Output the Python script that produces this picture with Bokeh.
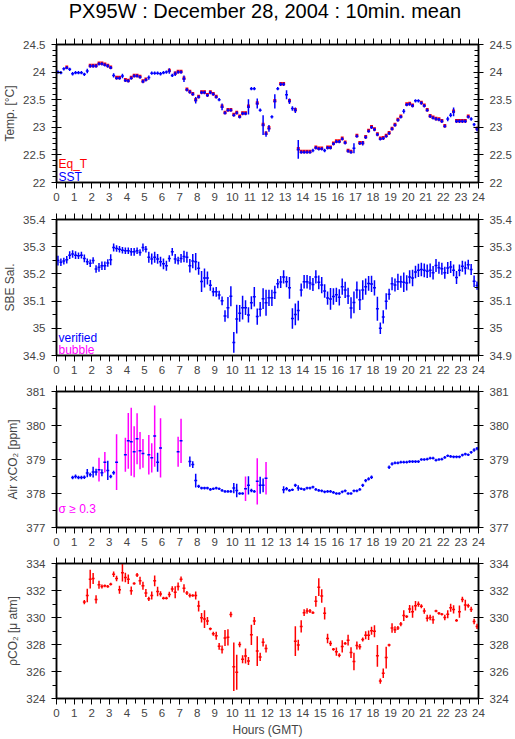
import numpy as np
from bokeh.plotting import figure
from bokeh.models import (LinearAxis, Range1d, Label, FixedTicker, Div,
                          CustomJSTickFormatter, CustomLabelingPolicy)
from bokeh.layouts import column
from bokeh.embed import file_html
from bokeh.resources import INLINE

# ---------------- data (10-minute means, 144 slots per day) ----------------
minutes = list(range(5, 1440, 10))          # slot centres, minutes after 00:00 GMT

sst = [24.00, 23.99, 24.06, 24.08, 24.05, 23.97,
       23.99, 23.99, 23.99, 23.96, 24.02, 24.11,
       24.11, 24.11, 24.15, 24.15, 24.13, 24.11,
       24.08, 23.94, 23.89, 23.89, 23.93, 23.85,
       23.84, 23.89, 23.93, 23.93, 23.91, 23.83,
       23.86, 23.90, 23.98, 23.98, 23.98, 23.97,
       23.99, 24.00, 24.02, 23.94, 23.97, 24.00,
       24.00, 23.88, 23.68, 23.64, 23.60, 23.49,
       23.55, 23.63, 23.63, 23.58, 23.63, 23.60,
       23.55, 23.50, 23.37, 23.26, 23.31, 23.31,
       23.22, 23.26, 23.19, 23.25, 23.25, 23.37,
       23.70, 23.70, 23.43, 23.31, 23.04, 22.88,
       22.98, 23.19, 23.47, 23.70, 23.78, 23.78,
       23.59, 23.47, 23.34, 23.31, 22.60, 22.55,
       22.55, 22.55, 22.55, 22.58, 22.63, 22.61,
       22.61, 22.58, 22.63, 22.63, 22.70, 22.74,
       22.74, 22.79, 22.72, 22.57, 22.55, 22.62,
       22.84, 22.71, 22.71, 22.82, 22.93, 23.00,
       22.96, 22.87, 22.79, 22.80, 22.84, 22.89,
       22.97, 23.04, 23.13, 23.19, 23.29, 23.41,
       23.42, 23.39, 23.48, 23.48, 23.44, 23.39,
       23.31, 23.20, 23.17, 23.15, 23.14, 23.11,
       23.02, 23.15, 23.22, 23.28, 23.11, 23.11,
       23.11, 23.11, 23.19, 23.15, 23.05, 22.97]

sst_sd = [0.03, 0.03, 0.03, 0.03, 0.03, 0.03,
          0.03, 0.03, 0.03, 0.03, 0.04, 0.03,
          0.03, 0.03, 0.03, 0.03, 0.03, 0.03,
          0.03, 0.04, 0.03, 0.03, 0.04, 0.03,
          0.03, 0.03, 0.03, 0.03, 0.03, 0.03,
          0.03, 0.04, 0.03, 0.03, 0.03, 0.03,
          0.03, 0.03, 0.05, 0.03, 0.04, 0.03,
          0.03, 0.06, 0.03, 0.03, 0.03, 0.06,
          0.03, 0.03, 0.03, 0.03, 0.03, 0.03,
          0.03, 0.03, 0.06, 0.03, 0.03, 0.03,
          0.03, 0.03, 0.03, 0.03, 0.03, 0.14,
          0.03, 0.03, 0.09, 0.03, 0.18, 0.05,
          0.06, 0.03, 0.13, 0.03, 0.03, 0.03,
          0.08, 0.05, 0.04, 0.05, 0.17, 0.03,
          0.03, 0.03, 0.03, 0.03, 0.03, 0.03,
          0.03, 0.03, 0.03, 0.03, 0.03, 0.03,
          0.03, 0.03, 0.03, 0.03, 0.03, 0.09,
          0.03, 0.03, 0.04, 0.03, 0.03, 0.03,
          0.03, 0.03, 0.03, 0.03, 0.03, 0.03,
          0.03, 0.03, 0.03, 0.03, 0.04, 0.03,
          0.03, 0.03, 0.03, 0.03, 0.03, 0.03,
          0.03, 0.03, 0.03, 0.03, 0.03, 0.03,
          0.03, 0.04, 0.04, 0.08, 0.03, 0.03,
          0.03, 0.03, 0.03, 0.03, 0.03, 0.04]

eq_t = [None, None, None, 24.09, None, None,
        None, None, None, None, None, 24.12,
        24.12, 24.12, 24.16, 24.16, 24.14, 24.12,
        24.09, None, 23.90, 23.90, None, 23.86,
        23.85, 23.90, 23.94, 23.94, 23.92, 23.84,
        23.87, None, None, None, None, None,
        None, None, 24.03, None, 23.98, 24.01,
        24.01, 23.89, 23.69, 23.65, 23.61, 23.50,
        23.56, 23.64, 23.64, 23.59, 23.64, 23.61,
        23.56, None, 23.38, 23.27, 23.32, 23.32,
        23.23, 23.27, 23.20, 23.26, 23.26, 23.38,
        None, None, 23.44, None, 23.05, 22.89,
        22.99, None, 23.48, None, 23.79, 23.79,
        None, 23.48, None, 23.32, 22.61, 22.56,
        22.56, 22.56, 22.56, None, 22.64, 22.62,
        22.62, None, 22.64, 22.64, 22.71, 22.75,
        22.75, 22.80, 22.73, 22.58, 22.56, None,
        22.85, 22.72, 22.72, 22.83, 22.94, 23.01,
        22.97, 22.88, 22.80, 22.81, 22.85, 22.90,
        22.98, 23.05, 23.14, 23.20, None, 23.42,
        23.43, 23.40, None, None, 23.45, 23.40,
        23.32, 23.21, 23.18, 23.16, 23.15, 23.12,
        23.03, None, None, 23.29, 23.12, 23.12,
        23.12, 23.12, 23.20, None, None, 22.98]

sal = [35.249, 35.243, 35.247, 35.252, 35.269, 35.273,
       35.269, 35.267, 35.269, 35.257, 35.245, 35.239,
       35.249, 35.218, 35.224, 35.230, 35.230, 35.240,
       35.252, 35.297, 35.293, 35.291, 35.287, 35.285,
       35.285, 35.281, 35.281, 35.285, 35.279, 35.297,
       35.291, 35.261, 35.255, 35.261, 35.255, 35.245,
       35.237, 35.230, 35.257, 35.281, 35.255, 35.249,
       35.257, 35.264, 35.261, 35.230, 35.247, 35.245,
       35.221, 35.172, 35.185, 35.185, 35.158, 35.134,
       35.134, 35.122, 35.101, 35.045, 35.076, 35.118,
       34.948, 35.034, 35.055, 35.076, 35.076, 35.049,
       35.094, 35.116, 35.043, 35.070, 35.109, 35.094,
       35.112, 35.112, 35.132, 35.164, 35.170, 35.189,
       35.171, 35.149, 35.036, 35.051, 35.065, 35.141,
       35.171, 35.171, 35.167, 35.161, 35.189, 35.169,
       35.159, 35.137, 35.111, 35.108, 35.117, 35.123,
       35.114, 35.153, 35.141, 35.119, 35.075, 35.095,
       35.141, 35.105, 35.141, 35.153, 35.165, 35.163,
       35.149, 35.072, 35.000, 35.042, 35.099, 35.125,
       35.164, 35.159, 35.171, 35.171, 35.169, 35.167,
       35.189, 35.185, 35.207, 35.213, 35.216, 35.213,
       35.210, 35.213, 35.204, 35.231, 35.223, 35.219,
       35.204, 35.222, 35.225, 35.213, 35.187, 35.213,
       35.228, 35.222, 35.234, 35.216, 35.173, 35.157]

sal_sd = [0.018, 0.014, 0.012, 0.014, 0.014, 0.014,
          0.014, 0.012, 0.012, 0.014, 0.012, 0.014,
          0.012, 0.014, 0.016, 0.016, 0.016, 0.014,
          0.020, 0.015, 0.012, 0.012, 0.012, 0.012,
          0.012, 0.014, 0.014, 0.012, 0.012, 0.015,
          0.012, 0.020, 0.020, 0.020, 0.018, 0.018,
          0.020, 0.018, 0.012, 0.014, 0.018, 0.014,
          0.016, 0.021, 0.020, 0.025, 0.026, 0.032,
          0.024, 0.039, 0.035, 0.024, 0.020, 0.016,
          0.018, 0.016, 0.016, 0.021, 0.039, 0.037,
          0.038, 0.053, 0.031, 0.044, 0.027, 0.028,
          0.024, 0.036, 0.030, 0.027, 0.038, 0.048,
          0.030, 0.030, 0.024, 0.017, 0.022, 0.024,
          0.020, 0.040, 0.038, 0.040, 0.036, 0.024,
          0.025, 0.025, 0.025, 0.024, 0.024, 0.025,
          0.030, 0.025, 0.024, 0.040, 0.030, 0.026,
          0.030, 0.030, 0.030, 0.030, 0.039, 0.040,
          0.031, 0.038, 0.036, 0.030, 0.027, 0.030,
          0.028, 0.044, 0.021, 0.024, 0.030, 0.020,
          0.024, 0.024, 0.030, 0.022, 0.036, 0.028,
          0.024, 0.030, 0.023, 0.024, 0.025, 0.025,
          0.025, 0.025, 0.025, 0.024, 0.022, 0.022,
          0.022, 0.022, 0.022, 0.022, 0.024, 0.022,
          0.020, 0.024, 0.018, 0.020, 0.021, 0.015]

xco2 = [None, None, None, None, None, 378.47,
        378.50, 378.47, 378.47, 378.48, 378.60, 378.55,
        378.63, 378.63, 378.70, 378.61, 378.92, 378.68,
        378.50, 378.61, 378.92, None, None, 379.14,
        379.55, 379.52, 379.23, 379.61, 379.26, 379.18,
        None, 379.14, 379.05, 379.69, 378.92, 379.34,
        None, None, None, None, None, 379.23,
        379.55, None, None, 378.94, 378.85, 378.38,
        378.21, 378.16, 378.16, 378.16, 378.12, 378.14,
        378.16, 378.14, 378.09, 378.06, 378.06, 378.06,
        378.16, 378.09, 378.00, 378.00, 378.14, 378.24,
        378.09, 378.06, 378.36, 378.24, 378.24, 378.45,
        None, None, None, None, None, 378.11,
        378.14, 378.09, 378.11, 378.24, 378.16, 378.14,
        378.12, 378.16, 378.16, 378.19, 378.12, 378.09,
        378.08, 378.05, 378.06, 378.06, 378.03, 378.00,
        378.00, 378.05, 378.08, 378.00, 378.00, 378.08,
        378.08, 378.12, 378.24, 378.38, 378.43, 378.48,
        None, None, None, None, None, 378.77,
        378.87, 378.90, 378.90, 378.92, 378.92, 378.92,
        378.94, 378.94, 378.94, 378.94, 379.00, 379.00,
        379.01, 379.04, 379.04, 378.98, 379.00, 379.01,
        379.06, 379.11, 379.09, 379.08, 379.08, 379.08,
        379.13, 379.16, 379.14, 379.21, 379.28, 379.32]

xco2_sd = [0.05, 0.05, 0.05, 0.05, 0.05, 0.05,
           0.06, 0.05, 0.05, 0.05, 0.12, 0.06,
           0.16, 0.10, 0.35, 0.10, 0.30, 0.28,
           0.05, 0.06, 0.82, 0.05, 0.05, 0.50,
           0.82, 1.00, 0.75, 0.75, 0.55, 0.42,
           0.05, 0.58, 0.43, 0.90, 0.28, 0.87,
           0.05, 0.05, 0.05, 0.05, 0.05, 0.44,
           0.65, 0.05, 0.05, 0.15, 0.10, 0.20,
           0.05, 0.04, 0.04, 0.04, 0.04, 0.04,
           0.04, 0.04, 0.04, 0.04, 0.04, 0.04,
           0.15, 0.20, 0.04, 0.04, 0.36, 0.27,
           0.05, 0.04, 0.68, 0.25, 0.20, 0.48,
           0.05, 0.05, 0.05, 0.05, 0.05, 0.10,
           0.05, 0.04, 0.04, 0.05, 0.08, 0.04,
           0.04, 0.04, 0.04, 0.04, 0.04, 0.04,
           0.04, 0.04, 0.04, 0.04, 0.04, 0.04,
           0.04, 0.04, 0.04, 0.04, 0.04, 0.04,
           0.04, 0.04, 0.05, 0.05, 0.05, 0.05,
           0.05, 0.05, 0.05, 0.05, 0.05, 0.05,
           0.05, 0.04, 0.04, 0.04, 0.04, 0.04,
           0.04, 0.04, 0.04, 0.04, 0.04, 0.04,
           0.04, 0.04, 0.04, 0.04, 0.04, 0.04,
           0.04, 0.04, 0.04, 0.04, 0.04, 0.04,
           0.04, 0.04, 0.04, 0.04, 0.05, 0.05]

pco2 = [None, None, None, None, None, None,
        None, None, None, 331.14, 331.63, 332.84,
        332.89, 331.34, 332.43, 332.30, 332.35, 332.30,
        332.47, 333.20, 332.89, 332.06, 333.32, 332.96,
        332.84, 331.99, 332.52, 333.15, 332.72, 332.35,
        331.82, 331.38, 331.63, 332.72, 331.92, 331.75,
        331.43, 331.43, 331.70, 332.11, 331.87, 332.30,
        332.84, 332.16, 331.82, 331.63, 331.63, 331.63,
        330.85, 329.98, 329.88, 329.74, 329.16, 328.79,
        328.65, 327.87, 327.63, 328.48, 328.53, 330.22,
        326.35, 325.94, 328.00, 326.91, 327.15, 326.78,
        328.72, 329.74, 327.51, 327.08, 328.16, 327.70,
        None, None, None, None, None, None,
        None, None, None, 328.25, 327.96, 329.34,
        330.36, 330.48, 330.48, 330.36, 331.20, 332.25,
        331.60, 330.31, 328.44, 328.08, 327.64, 327.47,
        327.20, 327.86, 328.08, 328.32, 327.40, 326.74,
        327.93, 327.83, 328.37, 328.68, 328.68, 329.02,
        328.98, 327.16, 325.29, 325.87, 327.03, 327.96,
        329.22, 329.10, 329.22, 329.51, 330.14, 330.07,
        330.63, 330.43, 330.87, 330.99, 330.84, 330.48,
        329.95, 330.00, 329.83, 330.48, 330.31, 330.24,
        330.00, 330.24, 330.72, 330.60, 329.78, 330.43,
        331.33, 330.92, 330.87, 330.60, 329.70, 329.34]

pco2_sd = [0.15, 0.15, 0.15, 0.15, 0.15, 0.15,
           0.15, 0.15, 0.15, 0.15, 0.50, 0.70,
           0.40, 0.30, 0.30, 0.15, 0.10, 0.10,
           0.10, 0.20, 0.20, 0.30, 0.65, 0.35,
           0.35, 0.30, 0.10, 0.15, 0.30, 0.30,
           0.30, 0.15, 0.30, 0.40, 0.35, 0.20,
           0.10, 0.10, 0.20, 0.20, 0.45, 0.30,
           0.20, 0.30, 0.15, 0.15, 0.10, 0.30,
           0.40, 0.35, 0.65, 0.30, 0.10, 0.15,
           0.30, 0.25, 0.30, 0.60, 0.60, 0.20,
           1.80, 1.30, 0.20, 0.30, 0.55, 0.30,
           0.75, 0.30, 1.10, 0.30, 0.30, 0.30,
           0.15, 0.15, 0.15, 0.15, 0.15, 0.15,
           0.15, 0.15, 0.15, 1.10, 0.40, 0.45,
           0.25, 0.20, 0.15, 0.10, 0.40, 0.65,
           0.50, 0.45, 0.35, 0.20, 0.10, 0.30,
           0.15, 0.45, 0.10, 0.40, 0.40, 0.65,
           0.30, 0.20, 0.15, 0.30, 0.35, 0.30,
           0.45, 0.80, 0.20, 0.35, 0.80, 0.10,
           0.35, 0.25, 0.15, 0.15, 0.40, 0.10,
           0.30, 0.45, 0.35, 0.20, 0.15, 0.20,
           0.25, 0.20, 0.30, 0.10, 0.10, 0.10,
           0.20, 0.30, 0.30, 0.30, 0.10, 0.45,
           0.20, 0.40, 0.15, 0.20, 0.20, 0.20]

hour_ticks = list(range(0, 25))
temp_ticks = [22, 22.5, 23, 23.5, 24, 24.5]
sal_ticks = [34.9, 35.0, 35.1, 35.2, 35.3, 35.4]
xco2_ticks = [377, 378, 379, 380, 381]
pco2_ticks = [324, 326, 328, 330, 332, 334]

title_text = "PX95W : December 28, 2004 : 10min. mean"

# ---------------- style ----------------
FONT = "Liberation Sans"
BLUE, RED, MAG = "#0000ff", "#ff0000", "#ff00ff"
W = 515
BL, BR = 52, 37
FW = W - BL - BR      # frame width 426
FH = 138              # frame height
HALF = 1.0 / 12.0     # half a 10-min slot, in hours
TITLE_H = 34

fmt = CustomJSTickFormatter(code="return String(Math.round(tick*1000)/1000)")
no_labels = CustomLabelingPolicy(
    code="for (let i = 0; i < indices.size; i++) { indices.unset(i) } return indices")

t_hours = np.array(minutes) / 60.0


def arr(lst):
    return np.array([np.nan if v is None else v for v in lst], dtype=float)


def frange(a, b, step):
    n = int(round((b - a) / step))
    return [round(a + i * step, 4) for i in range(n + 1)]


def make_fig(height, top, bottom, yr, ymajor, yminor_step, ylab, xlabel=None):
    p = figure(width=W, height=height, x_range=Range1d(0, 24), y_range=Range1d(*yr),
               toolbar_location=None, output_backend="svg",
               x_axis_location=None, y_axis_location=None,
               min_border_left=BL, min_border_right=BR,
               min_border_top=top, min_border_bottom=bottom,
               background_fill_color="white", border_fill_color="white",
               outline_line_color="black", outline_line_width=1.5)
    p.grid.visible = False
    xt = FixedTicker(ticks=hour_ticks, minor_ticks=frange(0, 24, 0.5))
    yt = FixedTicker(ticks=ymajor, minor_ticks=frange(yr[0], yr[1], yminor_step))
    for side in ("below", "above"):
        ax = LinearAxis(ticker=xt, formatter=fmt)
        ax.axis_line_width = 1.5
        ax.major_tick_in = 0
        ax.major_tick_out = 6
        ax.minor_tick_in = 0
        ax.minor_tick_out = 5
        ax.major_tick_line_width = 1
        ax.minor_tick_line_width = 1
        ax.major_label_text_font = FONT
        if side == "below":
            ax.major_label_text_font_size = "11.5px"
            ax.major_label_standoff = 4
            if xlabel:
                ax.axis_label = xlabel
                ax.axis_label_text_font = FONT
                ax.axis_label_text_font_size = "12px"
                ax.axis_label_text_font_style = "normal"
                ax.axis_label_standoff = 3
        else:
            ax.major_label_policy = no_labels
            ax.major_label_text_font_size = "1px"
            ax.major_label_standoff = 0
        p.add_layout(ax, side)
    for side in ("left", "right"):
        ax = LinearAxis(ticker=yt, formatter=fmt)
        ax.axis_line_width = 1.5
        ax.major_tick_in = 5
        ax.major_tick_out = 5
        ax.major_tick_line_width = 1
        ax.minor_tick_line_width = 1
        ax.major_label_standoff = 6
        if side == "left":
            ax.minor_tick_in = 0
            ax.minor_tick_out = 4
            ax.axis_label = ylab
            ax.axis_label_text_font = FONT
            ax.axis_label_text_font_size = "12px"
            ax.axis_label_text_font_style = "normal"
            ax.axis_label_standoff = 3
        else:
            ax.minor_tick_in = 4
            ax.minor_tick_out = 0
        ax.major_label_text_font = FONT
        ax.major_label_text_font_size = "11.5px"
        p.add_layout(ax, side)
    return p


def legend_text(p, text, y, color):
    p.add_layout(Label(x=2, y=y, x_units="screen", y_units="screen", text=text,
                       text_align="left", text_baseline="alphabetic",
                       text_font=FONT, text_font_size="12px", text_color=color))


def crosses(p, vals, sds, hcolor, vcolors, hwidth=1.5, vwidth=1.5):
    v = arr(vals)
    s = np.array(sds, dtype=float)
    ok = ~np.isnan(v)
    t = t_hours[ok]
    vv = v[ok]
    ss = s[ok]
    if isinstance(vcolors, list):
        vc = [c for c, k in zip(vcolors, ok) if k]
    else:
        vc = [vcolors] * len(t)
    p.segment(x0=t, y0=vv - ss, x1=t, y1=vv + ss, line_color=vc, line_width=vwidth)
    p.segment(x0=t - HALF, y0=vv, x1=t + HALF, y1=vv, line_color=hcolor, line_width=hwidth)


# ---------------- title ----------------
title_div = Div(
    text=('<div style="font-family: \'Liberation Sans\', Arial, sans-serif; font-size: 20px; '
          'line-height: 20px; padding-top: 1px; text-align: center; width: %dpx; '
          'margin-left: %dpx; color: black; white-space: nowrap;">%s</div>'
          % (FW, BL, title_text)),
    width=W, height=TITLE_H, margin=(0, 0, 0, 0))

# ---------------- panel 1: temperature ----------------
p1 = make_fig(44 - TITLE_H + FH + 27, 44 - TITLE_H, 27, (22, 24.5), temp_ticks, 0.1,
              "Temp. [°C]")
eq = arr(eq_t)
okq = ~np.isnan(eq)
p1.segment(x0=t_hours[okq] - HALF, y0=eq[okq], x1=t_hours[okq] + HALF, y1=eq[okq],
           line_color=RED, line_width=3.5)
crosses(p1, sst, sst_sd, BLUE, BLUE)
legend_text(p1, "Eq_T", 19, RED)
legend_text(p1, "SST", 5.5, BLUE)

# ---------------- panel 2: salinity ----------------
p2 = make_fig(8 + FH + 26, 8, 26, (34.9, 35.4), sal_ticks, 0.05, "SBE Sal.")
crosses(p2, sal, sal_sd, BLUE, BLUE)
legend_text(p2, "verified", 18, BLUE)
legend_text(p2, "bubble", 5.5, MAG)

# ---------------- panel 3: air xCO2 ----------------
p3 = make_fig(8 + FH + 26, 8, 26, (377, 381), xco2_ticks, 0.5, "Air xCO\u2082 [ppm]")
xcol = [MAG if s >= 0.3 else BLUE for s in xco2_sd]
crosses(p3, xco2, xco2_sd, BLUE, xcol)
legend_text(p3, "\u03c3 \u2265 0.3", 18.5, MAG)

# ---------------- panel 4: pCO2 ----------------
p4 = make_fig(8 + FH + 40, 8, 40, (324, 334), pco2_ticks, 1.0, "\u03c1CO\u2082 [\u03bc atm]",
              xlabel="Hours (GMT)")
crosses(p4, pco2, pco2_sd, RED, RED)

layout = column(title_div, p1, p2, p3, p4, spacing=0)
open("out.html", "w").write(file_html(layout, INLINE))
